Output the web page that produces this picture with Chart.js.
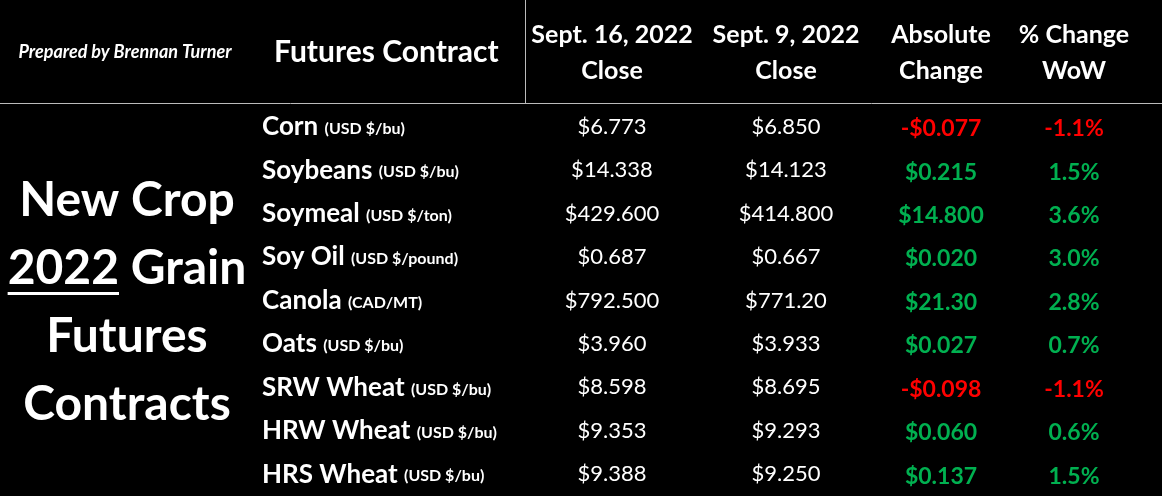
<!DOCTYPE html>
<html><head><meta charset="utf-8">
<script src="https://cdn.jsdelivr.net/npm/chart.js@4"></script>
<style>html,body{margin:0;padding:0;background:#000;}#w{width:1162px;height:496px;}</style>
</head><body><div id="w"><canvas id="c"></canvas></div>
<script>
const contracts = ["Corn","Soybeans","Soymeal","Soy Oil","Canola","Oats","SRW Wheat","HRW Wheat","HRS Wheat"];
const units = ["(USD $/bu)","(USD $/bu)","(USD $/ton)","(USD $/pound)","(CAD/MT)","(USD $/bu)","(USD $/bu)","(USD $/bu)","(USD $/bu)"];
const closeSep16 = ["$6.773","$14.338","$429.600","$0.687","$792.500","$3.960","$8.598","$9.353","$9.388"];
const closeSep9 = ["$6.850","$14.123","$414.800","$0.667","$771.20","$3.933","$8.695","$9.293","$9.250"];
const absChange = ["-$0.077","$0.215","$14.800","$0.020","$21.30","$0.027","-$0.098","$0.060","$0.137"];
const pctChange = ["-1.1%","1.5%","3.6%","3.0%","2.8%","0.7%","-1.1%","0.6%","1.5%"];
const headers = [["Sept. 16, 2022","Close"],["Sept. 9, 2022","Close"],["Absolute","Change"],["% Change","WoW"]];
const F = "Lato, 'Open Sans', sans-serif";

const tablePlugin = {
  id:'tbl',
  afterDraw(chart){
    const ctx = chart.ctx, y = chart.scales.y;
    ctx.save();
    ctx.strokeStyle='#bbb'; ctx.lineWidth=1;
    ctx.beginPath(); ctx.moveTo(0,103.5); ctx.lineTo(1162,103.5);
    ctx.moveTo(525.5,0); ctx.lineTo(525.5,103); ctx.stroke();
    ctx.fillStyle='#fff'; ctx.textBaseline='middle';
    ctx.font="italic bold 18px "+F; ctx.textAlign='center';
    ctx.fillText("Prepared by Brennan Turner",125,52);
    ctx.font="bold 30px "+F; ctx.textAlign='left';
    ctx.fillText("Futures Contract",274,52);
    const cx=[612,786,941,1074];
    ctx.font="bold 25px "+F; ctx.textAlign='center';
    headers.forEach((h,i)=>{ctx.fillText(h[0],cx[i],35);ctx.fillText(h[1],cx[i],71);});
    ctx.font="bold 48px "+F;
    ctx.fillText("New Crop",127,201);
    const w1=ctx.measureText("2022 ").width, w2=ctx.measureText("Grain").width, w0=ctx.measureText("2022").width;
    const sx=127-(w1+w2)/2;
    ctx.textAlign='left';
    ctx.fillText("2022 ",sx,269); ctx.fillText("Grain",sx+w1,269);
    ctx.fillRect(sx,292,w0,3);
    ctx.textAlign='center';
    ctx.fillText("Futures",127,337); ctx.fillText("Contracts",127,405);
    contracts.forEach((c,i)=>{
      const py=y.getPixelForValue(i);
      ctx.textAlign='left'; ctx.fillStyle='#fff';
      ctx.font="bold 26px "+F; ctx.fillText(c,262,py);
      const cw=ctx.measureText(c+" ").width;
      ctx.font="bold 16px "+F; ctx.fillText(units[i],262+cw,py+2);
      ctx.textAlign='center'; ctx.font="22px "+F;
      ctx.fillText(closeSep16[i],cx[0],py); ctx.fillText(closeSep9[i],cx[1],py);
      ctx.font="bold 23px "+F;
      ctx.fillStyle = absChange[i].startsWith('-')?'#ff0000':'#00b050';
      ctx.fillText(absChange[i],cx[2],py+2); ctx.fillText(pctChange[i],cx[3],py+2);
    });
    ctx.restore();
  }
};
new Chart(document.getElementById('c'),{
  type:'bar',
  data:{labels:contracts,datasets:[{data:contracts.map(()=>0),backgroundColor:'rgba(0,0,0,0)'}]},
  options:{responsive:true,maintainAspectRatio:false,animation:false,indexAxis:'y',
    layout:{padding:{top:105,left:0,right:0,bottom:0}},
    plugins:{legend:{display:false},tooltip:{enabled:false}},
    scales:{y:{type:'category',display:false},x:{display:false,min:0,max:1}}},
  plugins:[{id:'bg',beforeDraw(ch){ch.ctx.fillStyle='#000';ch.ctx.fillRect(0,0,ch.width,ch.height);}},tablePlugin]
});
</script></body></html>
